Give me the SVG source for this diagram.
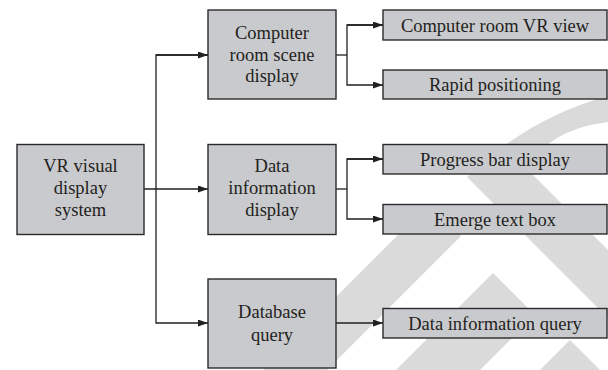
<svg xmlns="http://www.w3.org/2000/svg" width="608" height="370" viewBox="0 0 608 370">
<style>
.box{fill:#c9cacd;stroke:#2b2b2b;stroke-width:1.4}
.t{font-family:"Liberation Serif","Times New Roman",serif;font-size:18.5px;fill:#231f20;text-anchor:middle}
.c{fill:none;stroke:#231f20;stroke-width:1.3}
.wm{fill:#dadada;stroke:none}
</style>
<defs>
<marker id="ah" markerUnits="userSpaceOnUse" markerWidth="10" markerHeight="8" refX="10" refY="3.5" orient="auto">
<path d="M0,0 L10,3.5 L0,7 Z" fill="#231f20"/>
</marker>
</defs>
<rect width="608" height="370" fill="#ffffff"/>
<g id="watermark">
<path class="wm" d="M608,96 Q528,118 467,177 L608,318 L608,250 L528,170 Q546,130 608,122 Z"/>
<polygon class="wm" points="429,204 461,236 327,370 263,370"/>
<polygon class="wm" points="493,273 535,315 480,370 396,370"/>
<polygon class="wm" points="570,340 600,370 540,370"/>
</g>
<g id="connectors">
<line class="c" x1="144" y1="189" x2="208" y2="189" marker-end="url(#ah)"/>
<polyline class="c" points="208,55 156,55 156,323 208,323" marker-end="url(#ah)"/>
<line class="c" x1="156" y1="55" x2="208" y2="55" marker-end="url(#ah)"/>
<line class="c" x1="336" y1="55" x2="347" y2="55"/>
<polyline class="c" points="383,25 347,25 347,85 383,85" marker-end="url(#ah)"/>
<line class="c" x1="347" y1="25" x2="383" y2="25" marker-end="url(#ah)"/>
<line class="c" x1="336" y1="189" x2="347" y2="189"/>
<polyline class="c" points="383,159 347,159 347,219 383,219" marker-end="url(#ah)"/>
<line class="c" x1="347" y1="159" x2="383" y2="159" marker-end="url(#ah)"/>
<line class="c" x1="336" y1="323" x2="383" y2="323" marker-end="url(#ah)"/>
</g>
<g id="vr-system">
<rect class="box" x="17" y="144.5" width="127" height="90"/>
<text class="t" x="80.5" y="172">VR visual</text>
<text class="t" x="80.5" y="194">display</text>
<text class="t" x="80.5" y="216">system</text>
</g>
<g id="computer-room-scene">
<rect class="box" x="208" y="10" width="128" height="89"/>
<text class="t" x="272" y="39">Computer</text>
<text class="t" x="272" y="60.5">room scene</text>
<text class="t" x="272" y="82">display</text>
</g>
<g id="data-information-display">
<rect class="box" x="208" y="144.5" width="128" height="90"/>
<text class="t" x="272" y="172">Data</text>
<text class="t" x="272" y="194">information</text>
<text class="t" x="272" y="216">display</text>
</g>
<g id="database-query">
<rect class="box" x="208" y="279" width="128" height="89"/>
<text class="t" x="272" y="317.5">Database</text>
<text class="t" x="272" y="341">query</text>
</g>
<g id="computer-room-vr-view">
<rect class="box" x="383" y="10" width="224" height="30"/>
<text class="t" x="495" y="31.5">Computer room VR view</text>
</g>
<g id="rapid-positioning">
<rect class="box" x="383" y="70" width="224" height="29"/>
<text class="t" x="495" y="91">Rapid positioning</text>
</g>
<g id="progress-bar-display">
<rect class="box" x="383" y="144.5" width="224" height="29.5"/>
<text class="t" x="495" y="165.5">Progress bar display</text>
</g>
<g id="emerge-text-box">
<rect class="box" x="383" y="204.5" width="224" height="29.5"/>
<text class="t" x="495" y="225.5">Emerge text box</text>
</g>
<g id="data-information-query">
<rect class="box" x="383" y="308.5" width="224" height="29.5"/>
<text class="t" x="495" y="329.5">Data information query</text>
</g>
</svg>
